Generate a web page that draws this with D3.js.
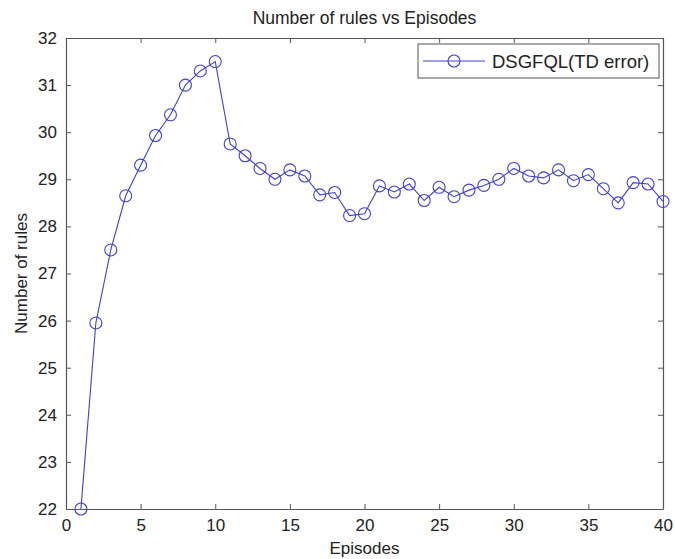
<!DOCTYPE html>
<html>
<head>
<meta charset="utf-8">
<script src="https://cdn.jsdelivr.net/npm/d3@7"></script>
<style>
body { margin:0; background:#fff; }
text { font-family: "Liberation Sans", Arial, sans-serif; fill:#222; }
.ax path, .ax line { stroke:#555; }
</style>
</head>
<body>
<div id="chart"></div>
<script>
var episodes = d3.range(1, 41);
var rules = [22.0, 25.95, 27.5, 28.65, 29.3, 29.93, 30.37, 31.0, 31.3, 31.5,
	29.75, 29.5, 29.23, 29.0, 29.2, 29.07, 28.67, 28.72, 28.23, 28.27,
	28.86, 28.73, 28.9, 28.55, 28.83, 28.63, 28.77, 28.87, 29.0, 29.23,
	29.07, 29.03, 29.2, 28.97, 29.1, 28.8, 28.5, 28.93, 28.9, 28.53];
var xTicks = [0, 5, 10, 15, 20, 25, 30, 35, 40];
var yTicks = [22, 23, 24, 25, 26, 27, 28, 29, 30, 31, 32];
var seriesName = "DSGFQL(TD error)";

var data = episodes.map(function(e, i) { return { x: e, y: rules[i] }; });

var margin = { top:38, right:12, bottom:50, left:66 },
	width = 675 - margin.left - margin.right,
	height = 559 - margin.top - margin.bottom;

var x = d3.scaleLinear().domain([0, 40]).range([0, width]);
var y = d3.scaleLinear().domain([22, 32]).range([height, 0]);

var blue = "#3f3fd4";

var svg = d3.select("#chart").append("svg")
	.attr("width", 675)
	.attr("height", 559);

var g = svg.append("g").attr("transform", "translate(" + margin.left + "," + margin.top + ")");

// axes, ticks pointing inward like matlab
g.append("g").attr("class", "ax")
	.attr("transform", "translate(0," + height + ")")
	.call(d3.axisBottom(x).tickValues(xTicks).tickSize(-5).tickPadding(10).tickSizeOuter(0))
	.selectAll("text").style("font-size", "17px").attr("fill", "#222");
g.append("g").attr("class", "ax")
	.call(d3.axisTop(x).tickValues(xTicks).tickSize(-5).tickFormat("").tickSizeOuter(0));
g.append("g").attr("class", "ax")
	.call(d3.axisLeft(y).tickValues(yTicks).tickSize(-5).tickPadding(9).tickSizeOuter(0))
	.selectAll("text").style("font-size", "17px").attr("fill", "#222");
g.append("g").attr("class", "ax")
	.attr("transform", "translate(" + width + ",0)")
	.call(d3.axisRight(y).tickValues(yTicks).tickSize(-5).tickFormat("").tickSizeOuter(0));
g.selectAll(".ax .domain").attr("stroke-width", 1.2);

var line = d3.line()
	.x(function(d) { return x(d.x); })
	.y(function(d) { return y(d.y); });

g.append("path").datum(data)
	.attr("fill", "none")
	.attr("stroke", blue)
	.attr("stroke-width", 1.1)
	.attr("d", line);

g.selectAll(".pt").data(data).enter().append("circle")
	.attr("class", "pt")
	.attr("cx", function(d) { return x(d.x); })
	.attr("cy", function(d) { return y(d.y); })
	.attr("r", 6)
	.attr("fill", "none")
	.attr("stroke", blue)
	.attr("stroke-width", 1.1);

// legend
var lg = g.append("g").attr("transform", "translate(" + (418 - margin.left) + "," + (44 - margin.top) + ")");
lg.append("rect").attr("width", 241).attr("height", 34)
	.attr("fill", "#fff").attr("stroke", "#555").attr("stroke-width", 1);
lg.append("line").attr("x1", 5).attr("x2", 67).attr("y1", 17).attr("y2", 17)
	.attr("stroke", blue).attr("stroke-width", 1.1);
lg.append("circle").attr("cx", 36).attr("cy", 17).attr("r", 6)
	.attr("fill", "none").attr("stroke", blue).attr("stroke-width", 1.1);
lg.append("text").attr("x", 74).attr("y", 24).style("font-size", "18.5px").text(seriesName);

// titles
svg.append("text").attr("x", margin.left + width / 2).attr("y", 24)
	.attr("text-anchor", "middle").style("font-size", "17.5px")
	.text("Number of rules vs Episodes");
svg.append("text").attr("x", margin.left + width / 2).attr("y", 554)
	.attr("text-anchor", "middle").style("font-size", "17px")
	.text("Episodes");
svg.append("text")
	.attr("transform", "translate(27," + (margin.top + height / 2) + ") rotate(-90)")
	.attr("text-anchor", "middle").style("font-size", "17px")
	.text("Number of rules");
</script>
</body>
</html>
